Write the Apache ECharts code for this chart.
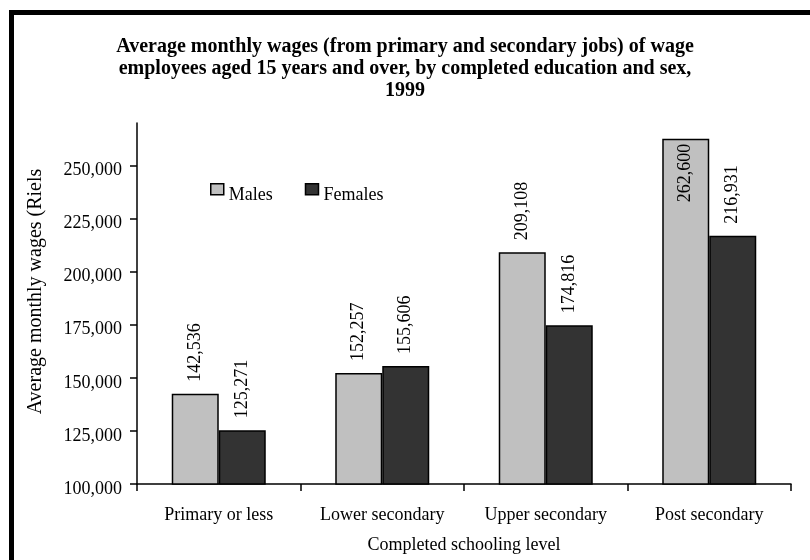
<!DOCTYPE html>
<html>
<head>
<meta charset="utf-8">
<title>Average monthly wages by completed education and sex, 1999</title>
<script src="https://cdn.jsdelivr.net/npm/echarts@6/dist/echarts.min.js"></script>
<style>
  html, body { margin: 0; padding: 0; background: #ffffff; }
  #chart { width: 810px; height: 560px; }
</style>
</head>
<body>
<div id="chart"></div>
<script>
// Schooling levels along the category axis
const categories = ['Primary or less', 'Lower secondary', 'Upper secondary', 'Post secondary'];
// Average monthly wages in Riels
const males = [142536, 152257, 209108, 262600];
const females = [125271, 155606, 174816, 216931];
// Value axis ticks
const yTicks = [100000, 125000, 150000, 175000, 200000, 225000, 250000];

const serif = '"Liberation Serif", "Times New Roman", serif';
const fmt = v => v.toLocaleString('en-US');

// The tallest bar carries its label inside, just below its top edge
function maleData() {
  const top = Math.max.apply(null, males);
  return males.map(v => v === top
    ? { value: v, label: { position: 'insideTop', align: 'right', distance: 5 } }
    : v);
}

const valueLabel = {
  show: true, position: 'top', rotate: 90, distance: 12,
  align: 'left', verticalAlign: 'middle',
  fontFamily: serif, fontSize: 18, color: '#000000',
  formatter: p => fmt(p.value)
};

const chart = echarts.init(document.getElementById('chart'));
chart.setOption({
  backgroundColor: '#ffffff',
  animation: false,
  title: {
    text: 'Average monthly wages (from primary and secondary jobs) of wage\nemployees aged 15 years and over, by completed education and sex,\n1999',
    left: 'center',
    top: 31,
    textStyle: {
      fontFamily: serif, fontWeight: 'bold', fontSize: 20, lineHeight: 22, color: '#000000',
      align: 'center'
    }
  },
  legend: {
    left: 210,
    top: 183,
    padding: 0,
    itemWidth: 13,
    itemHeight: 11,
    itemGap: 32,
    icon: 'rect',
    itemStyle: { borderColor: '#000000', borderWidth: 1.5 },
    formatter: '{t|{name}}',
    textStyle: {
      padding: [12, 0, 0, 0],
      rich: { t: { fontFamily: serif, fontSize: 18, color: '#000000' } }
    },
    data: ['Males', 'Females']
  },
  grid: { left: 137, right: 19, top: 123, bottom: 76, containLabel: false, outerBoundsMode: 'none' },
  xAxis: {
    type: 'category',
    data: categories,
    name: 'Completed schooling level',
    nameLocation: 'middle',
    nameGap: 52,
    nameTextStyle: { fontFamily: serif, fontSize: 18, color: '#000000' },
    axisLine: { lineStyle: { color: '#000000', width: 1.5 } },
    axisTick: { show: true, length: 7, lineStyle: { color: '#000000', width: 1.5 } },
    axisLabel: { fontFamily: serif, fontSize: 18, color: '#000000', margin: 22 }
  },
  yAxis: {
    type: 'value',
    min: 100000,
    max: 270000,
    interval: 25000,
    name: 'Average monthly wages (Riels',
    nameLocation: 'middle',
    nameGap: 91,
    nameTextStyle: { fontFamily: serif, fontSize: 20, color: '#000000', padding: [0, 0, 0, 24] },
    splitLine: { show: false },
    axisLine: { show: true, lineStyle: { color: '#000000', width: 1.5 } },
    axisTick: { show: true, length: 7, lineStyle: { color: '#000000', width: 1.5 }, customValues: yTicks },
    axisLabel: {
      fontFamily: serif, fontSize: 18, color: '#000000', margin: 15,
      verticalAlign: 'top', lineHeight: 10, customValues: yTicks, formatter: fmt
    }
  },
  series: [
    {
      name: 'Males',
      type: 'bar',
      data: maleData(),
      barGap: '0%',
      barCategoryGap: '42.5%',
      itemStyle: { color: '#c0c0c0', borderColor: '#000000', borderWidth: 1.5 },
      label: valueLabel
    },
    {
      name: 'Females',
      type: 'bar',
      data: females,
      barGap: '0%',
      barCategoryGap: '42.5%',
      itemStyle: { color: '#333333', borderColor: '#000000', borderWidth: 1.5 },
      label: valueLabel
    }
  ],
  graphic: [
    {
      type: 'rect',
      silent: true,
      shape: { x: 11.5, y: 12.5, width: 1000, height: 800 },
      style: { fill: null, stroke: '#000000', lineWidth: 5 }
    }
  ]
});
</script>
</body>
</html>
